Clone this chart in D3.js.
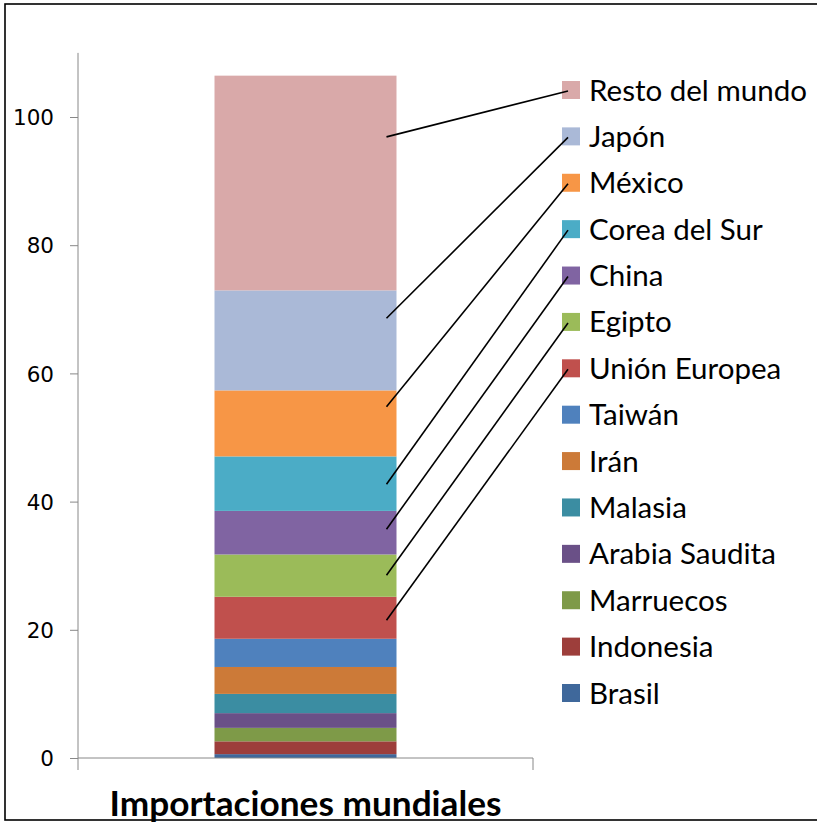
<!DOCTYPE html>
<html><head><meta charset="utf-8">
<script src="https://cdn.jsdelivr.net/npm/d3@7"></script>
<style>body{margin:0;background:#fff}svg{display:block}</style>
</head><body>
<script>
const category = ["Importaciones mundiales"];
const series = ["Brasil","Indonesia","Marruecos","Arabia Saudita","Malasia","Irán","Taiwán","Unión Europea","Egipto","China","Corea del Sur","México","Japón","Resto del mundo"];
const values = [0.6, 2.0, 2.1, 2.3, 3.0, 4.2, 4.4, 6.55, 6.6, 6.8, 8.5, 10.3, 15.6, 33.5];
const colors = ["#3F689B","#9D3E3B","#7E9A48","#6A5087","#3B8DA2","#CC7A38","#4F81BD","#C0504D","#9BBB59","#8064A2","#4BACC6","#F79646","#AAB9D7","#D9A9A9"];
const yTicks = [0, 20, 40, 60, 80, 100];
// leader lines: series label and point (in data units) where the line meets the bar
const leaderSeries = ["Resto del mundo","Japón","México","Corea del Sur","China","Egipto","Unión Europea"];
const leaderValues = [96.9, 68.6, 54.8, 42.7, 35.7, 28.5, 21.5];

const W = 817, H = 822;
const svg = d3.select("body").append("svg").attr("width", W).attr("height", H);

// outer frame
svg.append("rect").attr("x",5).attr("y",4).attr("width",840).attr("height",816)
  .attr("fill","none").attr("stroke","#000").attr("stroke-width",1.6);

const plot = {left:78, right:533, top:52.9, bottom:758};
const x = d3.scaleBand().domain(category).range([plot.left, plot.right]).paddingInner(0.6).paddingOuter(0.3);
const y = d3.scaleLinear().domain([0,110]).range([plot.bottom, plot.top]);

// stack
let cum = 0;
const segs = values.map((v,i)=>{ const s={name:series[i], y0:cum, y1:cum+v, color:colors[i]}; cum+=v; return s; });

svg.append("g").selectAll("rect").data(segs).join("rect")
  .attr("x", x(category[0])).attr("width", x.bandwidth())
  .attr("y", d=>y(d.y1)).attr("height", d=>y(d.y0)-y(d.y1))
  .attr("fill", d=>d.color);

// y axis
const gy = svg.append("g").attr("transform",`translate(${plot.left},0)`)
  .call(d3.axisLeft(y).tickValues(yTicks).tickSize(8).tickSizeOuter(0).tickPadding(16));
gy.select(".domain").attr("stroke","#888").attr("d",`M0,${plot.top}V${plot.bottom+12}`);
gy.selectAll(".tick line").attr("stroke","#888");
gy.selectAll(".tick text").attr("font-family","DejaVu Sans, Verdana, sans-serif").attr("font-size",21.5).attr("fill","#000").attr("dy","0.36em");

// x axis
const gx = svg.append("g").attr("transform",`translate(0,${plot.bottom})`)
  .call(d3.axisBottom(x).tickSize(0).tickSizeOuter(0).tickPadding(33));
gx.select(".domain").attr("stroke","#888").attr("d",`M${plot.left},0H${plot.right}V12`);
gx.selectAll(".tick text").attr("font-family","Lato, 'Open Sans', sans-serif").attr("font-weight","bold")
  .attr("font-size",31).attr("fill","#000").attr("dy","0.71em");
// fit title width
gx.selectAll(".tick text").each(function(){ const w=this.getComputedTextLength(); const fs=31*392/w; d3.select(this).attr("font-size",fs); });

// legend
const legY = d3.scalePoint().domain(series.slice().reverse()).range([90, 693]);
const lg = svg.append("g");
const items = lg.selectAll("g").data(segs).join("g").attr("transform",d=>`translate(562,${legY(d.name)})`);
items.append("rect").attr("x",0).attr("y",-9).attr("width",18).attr("height",18).attr("fill",d=>d.color);
const lt = items.append("text").attr("x",27).attr("y",-1).attr("dominant-baseline","central")
  .attr("font-family","Lato, 'Open Sans', sans-serif").attr("font-size",26).attr("fill","#000").text(d=>d.name);
// fit legend font to reference width of "Resto del mundo" (218px)
const rw = lt.filter(d=>d.name==="Resto del mundo").node().getComputedTextLength();
lt.attr("font-size", 26*218/rw);

// leader lines
svg.append("g").selectAll("line").data(leaderSeries.map((s,i)=>({s, v:leaderValues[i]}))).join("line")
  .attr("x1", x(category[0])+x.bandwidth()-10).attr("y1", d=>y(d.v))
  .attr("x2", 568).attr("y2", d=>legY(d.s)+1)
  .attr("stroke","#000").attr("stroke-width",1.6);
</script>
</body></html>
